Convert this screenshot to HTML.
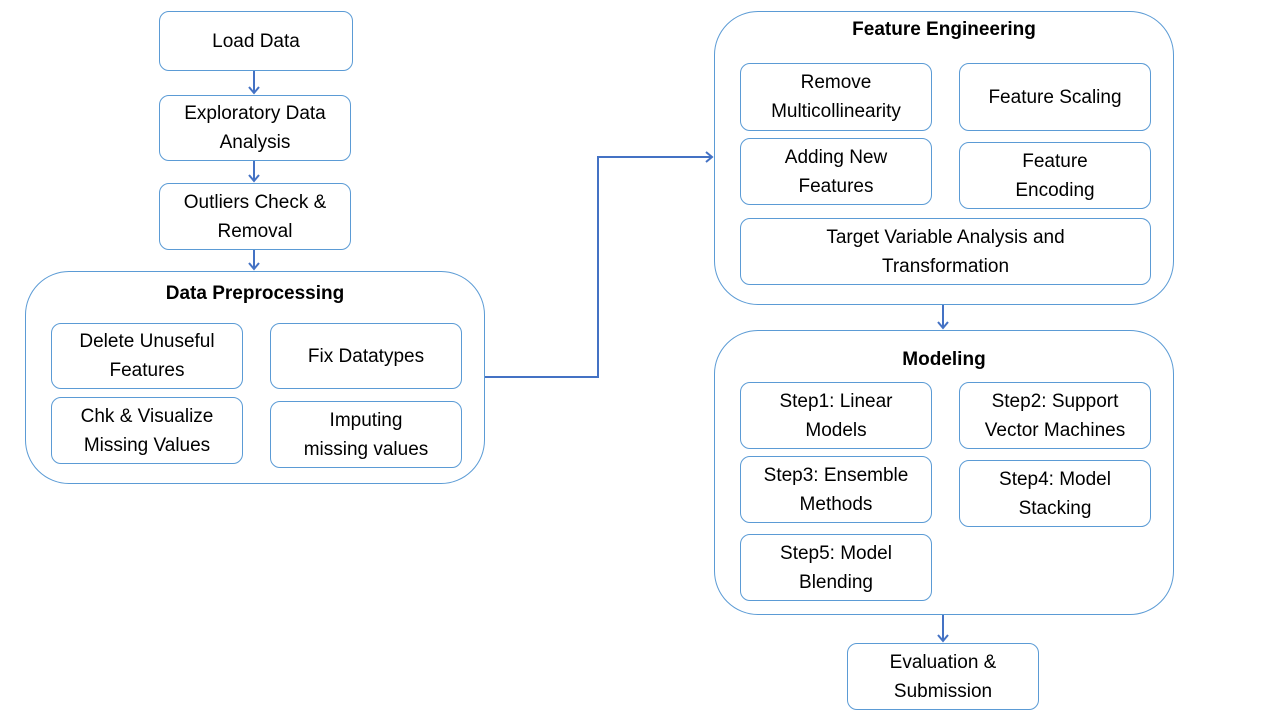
<!DOCTYPE html>
<html><head><meta charset="utf-8"><style>
body{margin:0;width:1280px;height:720px;background:#fff;position:relative;overflow:hidden;font-family:"Liberation Sans",sans-serif;}
.b{position:absolute;box-sizing:border-box;border:1px solid #5b9bd5;border-radius:10px;display:flex;align-items:center;justify-content:center;text-align:center;font-size:19px;line-height:29px;color:#000;background:#fff;}
.c{position:absolute;box-sizing:border-box;border:1px solid #5b9bd5;border-radius:44px;}
.t{position:absolute;font-weight:bold;font-size:19px;text-align:center;left:0;right:0;}
svg{position:absolute;left:0;top:0;}
</style></head><body>
<div class="c" style="left:25px;top:271px;width:460px;height:213px"><div class="t" style="top:11px">Data Preprocessing</div></div>
<div class="c" style="left:714px;top:11px;width:460px;height:294px"><div class="t" style="top:7px">Feature Engineering</div></div>
<div class="c" style="left:714px;top:330px;width:460px;height:285px"><div class="t" style="top:18px">Modeling</div></div>

<div class="b" style="left:159px;top:11px;width:194px;height:60px">Load Data</div>
<div class="b" style="left:159px;top:95px;width:192px;height:66px">Exploratory Data<br>Analysis</div>
<div class="b" style="left:159px;top:183px;width:192px;height:67px">Outliers Check &amp;<br>Removal</div>

<div class="b" style="left:51px;top:323px;width:192px;height:66px">Delete Unuseful<br>Features</div>
<div class="b" style="left:270px;top:323px;width:192px;height:66px">Fix Datatypes</div>
<div class="b" style="left:51px;top:397px;width:192px;height:67px">Chk &amp; Visualize<br>Missing Values</div>
<div class="b" style="left:270px;top:401px;width:192px;height:67px">Imputing<br>missing values</div>

<div class="b" style="left:740px;top:63px;width:192px;height:68px">Remove<br>Multicollinearity</div>
<div class="b" style="left:959px;top:63px;width:192px;height:68px">Feature Scaling</div>
<div class="b" style="left:740px;top:138px;width:192px;height:67px">Adding New<br>Features</div>
<div class="b" style="left:959px;top:142px;width:192px;height:67px">Feature<br>Encoding</div>
<div class="b" style="left:740px;top:218px;width:411px;height:67px">Target Variable Analysis and<br>Transformation</div>

<div class="b" style="left:740px;top:382px;width:192px;height:67px">Step1: Linear<br>Models</div>
<div class="b" style="left:959px;top:382px;width:192px;height:67px">Step2: Support<br>Vector Machines</div>
<div class="b" style="left:740px;top:456px;width:192px;height:67px">Step3: Ensemble<br>Methods</div>
<div class="b" style="left:959px;top:460px;width:192px;height:67px">Step4: Model<br>Stacking</div>
<div class="b" style="left:740px;top:534px;width:192px;height:67px">Step5: Model<br>Blending</div>

<div class="b" style="left:847px;top:643px;width:192px;height:67px">Evaluation &amp;<br>Submission</div>

<svg width="1280" height="720" fill="none" stroke="#4472c4" stroke-width="2">
<path d="M254 71V93M249 87l5 6 5-6"/>
<path d="M254 161V181M249 175l5 6 5-6"/>
<path d="M254 250V269M249 263l5 6 5-6"/>
<path d="M943 305V328M938 322l5 6 5-6"/>
<path d="M943 615V641M938 635l5 6 5-6"/>
<path d="M485 377H598V157H712M706 152l6 5-6 5"/>
</svg>
</body></html>
